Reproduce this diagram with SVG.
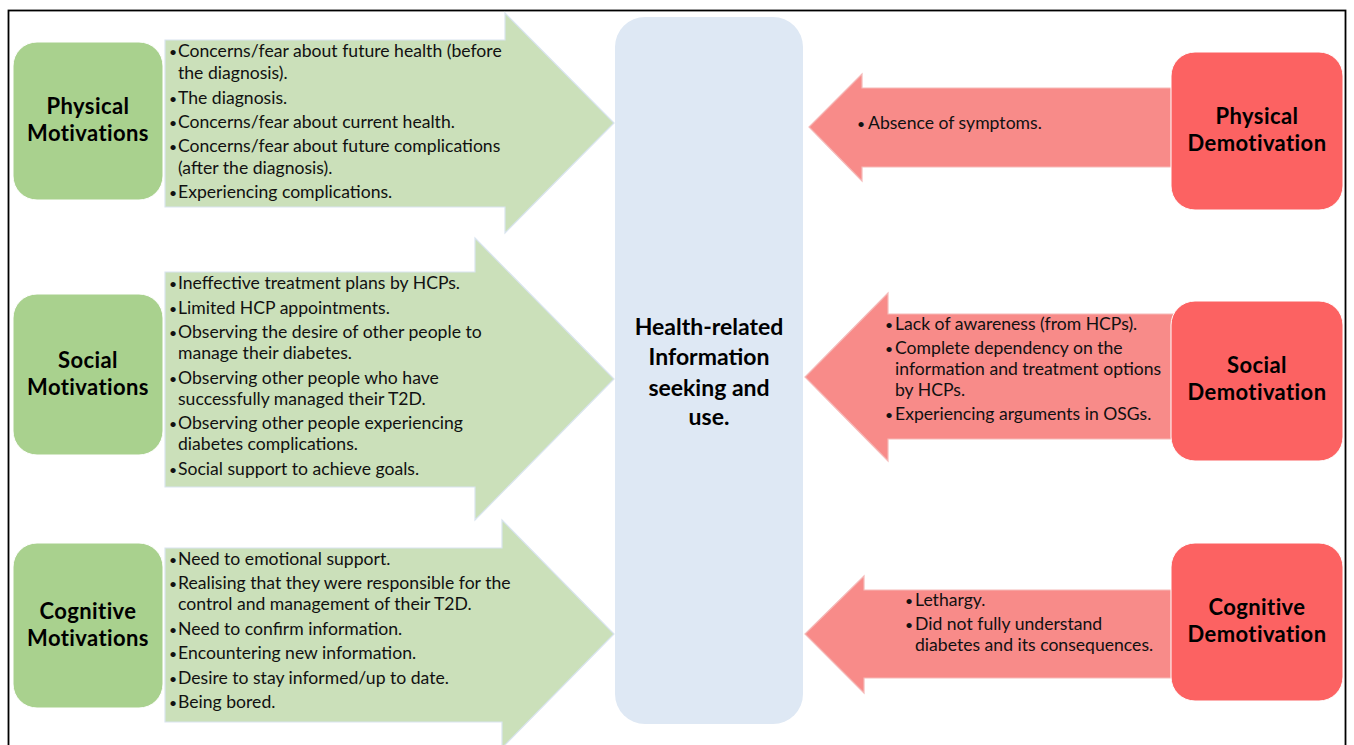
<svg xmlns="http://www.w3.org/2000/svg" width="1354" height="745" viewBox="0 0 1354 745">
  <style>
    .frame { fill: #ffffff; stroke: #000000; stroke-width: 1.8; }
    .mot { fill: #a9d18e; stroke: #ffffff; stroke-width: 1; }
    .demot { fill: #fc6262; stroke: #ffffff; stroke-width: 1; }
    .hub { fill: #dee8f4; }
    .garrow { fill: #cbe0ba; stroke: #d9e4ef; stroke-width: 1.2; }
    .rarrow { fill: #f88b89; stroke: #f5b9b8; stroke-width: 1.2; }
    .title { font-family: Lato, "Liberation Sans", sans-serif; font-weight: bold; font-size: 22px; letter-spacing: 0.4px; fill: #000000; text-anchor: middle; }
    .hubtext { font-family: Lato, "Liberation Sans", sans-serif; font-weight: bold; font-size: 23px; fill: #000000; text-anchor: middle; }
    .item { font-family: Lato, "Liberation Sans", sans-serif; font-size: 17.6px; fill: #111111; }
    .dot { font-family: Lato, "Liberation Sans", sans-serif; font-size: 14px; fill: #111111; }
  </style>

  <rect class="frame" x="8.5" y="10.5" width="1337" height="760"/>

  <!-- block arrows with their bullet labels -->
  <g id="connectors">
    <g id="arrow-physical-motivations">
      <path class="garrow" d="M165,40 H505 V13 L614,123 L505,233 V207 H165 Z"/>
      <text class="dot" x="169" y="57">•</text><text class="item" x="178" y="57">Concerns/fear about future health (before</text>
      <text class="item" x="178" y="79">the diagnosis).</text>
      <text class="dot" x="169" y="104">•</text><text class="item" x="178" y="104">The diagnosis.</text>
      <text class="dot" x="169" y="128">•</text><text class="item" x="178" y="128">Concerns/fear about current health.</text>
      <text class="dot" x="169" y="152">•</text><text class="item" x="178" y="152">Concerns/fear about future complications</text>
      <text class="item" x="178" y="174">(after the diagnosis).</text>
      <text class="dot" x="169" y="198">•</text><text class="item" x="178" y="198">Experiencing complications.</text>
    </g>
    <g id="arrow-social-motivations">
      <path class="garrow" d="M165,272 H475 V238 L614,379 L475,520 V487 H165 Z"/>
      <text class="dot" x="169" y="289">•</text><text class="item" x="178" y="289">Ineffective treatment plans by HCPs.</text>
      <text class="dot" x="169" y="314">•</text><text class="item" x="178" y="314">Limited HCP appointments.</text>
      <text class="dot" x="169" y="338">•</text><text class="item" x="178" y="338">Observing the desire of other people to</text>
      <text class="item" x="178" y="359">manage their diabetes.</text>
      <text class="dot" x="169" y="384">•</text><text class="item" x="178" y="384">Observing other people who have</text>
      <text class="item" x="178" y="405">successfully managed their T2D.</text>
      <text class="dot" x="169" y="429">•</text><text class="item" x="178" y="429">Observing other people experiencing</text>
      <text class="item" x="178" y="450">diabetes complications.</text>
      <text class="dot" x="169" y="475">•</text><text class="item" x="178" y="475">Social support to achieve goals.</text>
    </g>
    <g id="arrow-cognitive-motivations">
      <path class="garrow" d="M165,548 H502 V520 L614,634 L502,748 V722 H165 Z"/>
      <text class="dot" x="169" y="565">•</text><text class="item" x="178" y="565">Need to emotional support.</text>
      <text class="dot" x="169" y="589">•</text><text class="item" x="178" y="589">Realising that they were responsible for the</text>
      <text class="item" x="178" y="610">control and management of their T2D.</text>
      <text class="dot" x="169" y="635">•</text><text class="item" x="178" y="635">Need to confirm information.</text>
      <text class="dot" x="169" y="659">•</text><text class="item" x="178" y="659">Encountering new information.</text>
      <text class="dot" x="169" y="684">•</text><text class="item" x="178" y="684">Desire to stay informed/up to date.</text>
      <text class="dot" x="169" y="708">•</text><text class="item" x="178" y="708">Being bored.</text>
    </g>
    <g id="arrow-physical-demotivation">
      <path class="rarrow" d="M1175,88 H862 V74 L809,127 L862,181 V167 H1175 Z"/>
      <text class="dot" x="857" y="129">•</text><text class="item" x="868" y="129">Absence of symptoms.</text>
    </g>
    <g id="arrow-social-demotivation">
      <path class="rarrow" d="M1175,314 H888 V293 L805,377 L888,461 V439 H1175 Z"/>
      <text class="dot" x="885" y="330">•</text><text class="item" x="895" y="330">Lack of awareness (from HCPs).</text>
      <text class="dot" x="885" y="354">•</text><text class="item" x="895" y="354">Complete dependency on the</text>
      <text class="item" x="895" y="375">information and treatment options</text>
      <text class="item" x="895" y="396">by HCPs.</text>
      <text class="dot" x="885" y="420">•</text><text class="item" x="895" y="420">Experiencing arguments in OSGs.</text>
    </g>
    <g id="arrow-cognitive-demotivation">
      <path class="rarrow" d="M1175,590 H864 V576 L805,634 L864,693 V678 H1175 Z"/>
      <text class="dot" x="905" y="606">•</text><text class="item" x="915" y="606">Lethargy.</text>
      <text class="dot" x="905" y="630">•</text><text class="item" x="915" y="630">Did not fully understand</text>
      <text class="item" x="915" y="651">diabetes and its consequences.</text>
    </g>
  </g>

  <!-- central box -->
  <g id="information-seeking">
    <rect class="hub" x="615" y="17" width="188" height="707" rx="30"/>
    <text class="hubtext" x="709" y="335">Health-related</text>
    <text class="hubtext" x="709" y="365">Information</text>
    <text class="hubtext" x="709" y="396">seeking and</text>
    <text class="hubtext" x="709" y="425">use.</text>
  </g>

  <!-- motivation nodes -->
  <g id="physical-motivations">
    <rect class="mot" x="13" y="42" width="150" height="158" rx="24"/>
    <text class="title" x="88" y="114">Physical</text>
    <text class="title" x="88" y="141">Motivations</text>
  </g>
  <g id="social-motivations">
    <rect class="mot" x="13" y="294" width="150" height="161" rx="24"/>
    <text class="title" x="88" y="368">Social</text>
    <text class="title" x="88" y="395">Motivations</text>
  </g>
  <g id="cognitive-motivations">
    <rect class="mot" x="13" y="543" width="150" height="165" rx="24"/>
    <text class="title" x="88" y="619">Cognitive</text>
    <text class="title" x="88" y="646">Motivations</text>
  </g>

  <!-- demotivation nodes -->
  <g id="physical-demotivation">
    <rect class="demot" x="1171" y="52" width="172" height="158" rx="24"/>
    <text class="title" x="1257" y="124">Physical</text>
    <text class="title" x="1257" y="151">Demotivation</text>
  </g>
  <g id="social-demotivation">
    <rect class="demot" x="1171" y="301" width="172" height="160" rx="24"/>
    <text class="title" x="1257" y="373">Social</text>
    <text class="title" x="1257" y="400">Demotivation</text>
  </g>
  <g id="cognitive-demotivation">
    <rect class="demot" x="1171" y="543" width="172" height="158" rx="24"/>
    <text class="title" x="1257" y="615">Cognitive</text>
    <text class="title" x="1257" y="642">Demotivation</text>
  </g>
</svg>
